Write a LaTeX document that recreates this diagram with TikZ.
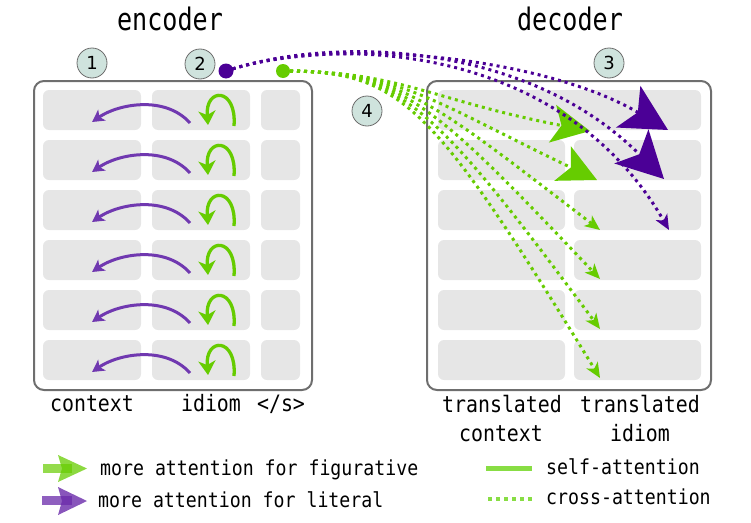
\documentclass[tikz,border=0pt]{standalone}
\usepackage{fontspec}
\setmainfont{DejaVu Sans}
\newfontfamily\monof[FakeStretch=0.88]{DejaVu Sans Mono}
\newfontfamily\titlef[FakeStretch=0.81]{DejaVu Sans Mono}
\usetikzlibrary{arrows.meta}
\definecolor{cellgray}{HTML}{E6E6E6}
\definecolor{boxgray}{HTML}{6E6E6E}
\definecolor{lime}{HTML}{66CC00}
\definecolor{indig}{HTML}{4B0096}
\definecolor{lpurp}{HTML}{7038B0}
\definecolor{legpurp}{HTML}{6A2AAA}
\definecolor{circfill}{HTML}{CFE3DD}
\definecolor{legline}{HTML}{88DD44}
\begin{document}
\begin{tikzpicture}[x=1pt,y=-1pt,
  cell/.style={fill=cellgray, rounded corners=6pt, inner sep=0pt, outer sep=0pt, minimum height=40pt},
  bigbox/.style={draw=boxgray, line width=2pt, rounded corners=10pt, inner sep=0pt, minimum height=309pt},
  numc/.style={circle, draw=gray!85!black, line width=0.8pt, fill=circfill, minimum size=30pt, inner sep=0pt, font=\fontsize{18}{18}\selectfont},
  title/.style={anchor=base, inner sep=0pt, font=\titlef\fontsize{31}{31}\selectfont},
  lab/.style={anchor=base, inner sep=0pt, font=\monof\fontsize{22.6}{23}\selectfont},
  leg/.style={anchor=base west, inner sep=0pt, font=\monof\fontsize{20.7}{21}\selectfont},
  xattn/.style={line width=3pt, dash pattern=on 3pt off 4pt},
  bigG/.style={-{Stealth[length=38pt,width=38pt,inset=9pt]}},
  bigP/.style={-{Stealth[length=46pt,width=48pt,inset=11pt]}},
  smallT/.style={-{Stealth[length=15pt,width=13pt,inset=4pt]}},
  encp/.style={draw=lpurp, line width=3pt, -{Stealth[length=12pt,width=13pt,inset=3pt]}},
  loopg/.style={draw=lime, line width=3.3pt, -{Stealth[length=14pt,width=17pt,inset=4pt]}},
  dotn/.style={circle, inner sep=0pt, minimum size=14pt}
]
\useasboundingbox (0,0) rectangle (751,522);

% frames
\node[bigbox, minimum width=278pt] (enc) at (173,235.5) {};
\node[bigbox, minimum width=284pt] (dec) at (569,235.5) {};

% encoder cells and self-attention arrows
\foreach \r in {1,...,6} {
  \pgfmathsetmacro\yc{60+50*\r}
  \node[cell, minimum width=98pt] (e\r1) at (92,\yc) {};
  \node[cell, minimum width=98pt] (e\r2) at (201,\yc) {};
  \node[cell, minimum width=39pt] (e\r3) at (280.5,\yc) {};
}
% decoder cells
\node[cell, minimum width=263pt] (d1) at (569.5,110) {};
\foreach \r in {2,...,6} {
  \pgfmathsetmacro\yc{60+50*\r}
  \node[cell, minimum width=127pt] (d\r1) at (501.5,\yc) {};
  \node[cell, minimum width=127pt] (d\r2) at (637.5,\yc) {};
}

\foreach \r in {1,...,6} {
  \pgfmathsetmacro\yc{60+50*\r}
  \coordinate (ps\r) at (190,\yc+13);
  \coordinate (pe\r) at (92,\yc+12);
  \draw[encp] (ps\r) .. controls (165,\yc-15) and (118,\yc-6) .. (pe\r);
  \coordinate (ls\r) at (234,\yc+16);
  \coordinate (le\r) at (208,\yc+15);
  \draw[loopg] (ls\r) .. controls (237,\yc-23) and (205,\yc-23) .. (le\r);
}

% numbered circles
\node[numc] (n1) at (92,63) {1};
\node[numc] (n2) at (200,64) {2};
\node[numc] (n3) at (609,63) {3};
\node[numc] (n4) at (367,111) {4};

% titles
\node[title] (tenc) at (170,30) {encoder};
\node[title] (tdec) at (570,30) {decoder};

% column labels
\node[lab] (lc) at (92,411) {context};
\node[lab] (li) at (211,411) {idiom};
\node[lab] (ls) at (281,411) {</s>};
\node[lab] (ltc1) at (502,412) {translated};
\node[lab] (lti1) at (640,412) {translated};
\node[lab] (ltc2) at (501,441) {context};
\node[lab] (lti2) at (640,441) {idiom};

% cross-attention lines
\coordinate (gdc) at (283,71);
\coordinate (pdc) at (226,71);
\coordinate (gt1) at (590,131);
\coordinate (gt2) at (597,180);
\coordinate (gt3) at (600,230);
\coordinate (gt4) at (600,279);
\coordinate (gt5) at (600,329);
\coordinate (gt6) at (600,378);
\coordinate (pt1) at (668,130);
\coordinate (pt2) at (664,179);
\coordinate (pt3) at (669,230);

\draw[xattn, lime, bigG] (gdc) .. controls (400,71) and (430,100) .. (gt1);
\draw[xattn, lime, bigG] (gdc) .. controls (400,71) and (430,100) .. (gt2);
\foreach \i in {3,4,5,6}
  \draw[xattn, lime, smallT] (gdc) .. controls (400,71) and (430,100) .. (gt\i);

\draw[xattn, indig, bigP] (pdc) .. controls (330,36) and (540,55) .. (pt1);
\draw[xattn, indig, bigP] (pdc) .. controls (330,36) and (525,40) .. (pt2);
\draw[xattn, indig, smallT] (pdc) .. controls (330,36) and (560,40) .. (pt3);

\node[dotn, fill=indig, minimum size=15pt] (pdot) at (pdc) {};
\node[dotn, fill=lime] (gdot) at (gdc) {};

% legend
\coordinate (ga1) at (43,468.5);
\coordinate (ga2) at (72,468.5);
\draw[line width=9pt, lime, opacity=.7] (ga1) -- (ga2);
\fill[lime, opacity=.75] (58,455) -- (87,468.5) -- (58,482) -- (62,468.5) -- cycle;
\coordinate (pa1) at (42,500.5);
\coordinate (pa2) at (72,500.5);
\draw[line width=9pt, legpurp, opacity=.75] (pa1) -- (pa2);
\fill[legpurp, opacity=.8] (58,487) -- (87,501) -- (58,515) -- (62,501) -- cycle;
\node[leg] (lg1) at (100,475) {more attention for figurative};
\node[leg] (lg2) at (98,507) {more attention for literal};

\coordinate (sa1) at (486,468.5);
\coordinate (sa2) at (532,468.5);
\draw[line width=5pt, legline] (sa1) -- (sa2);
\coordinate (ca1) at (488,499);
\coordinate (ca2) at (532,499);
\draw[line width=4.5pt, legline, dash pattern=on 4pt off 4pt] (ca1) -- (ca2);
\node[leg] (lg3) at (546,474) {self-attention};
\node[leg] (lg4) at (546,504) {cross-attention};
\end{tikzpicture}
\end{document}
